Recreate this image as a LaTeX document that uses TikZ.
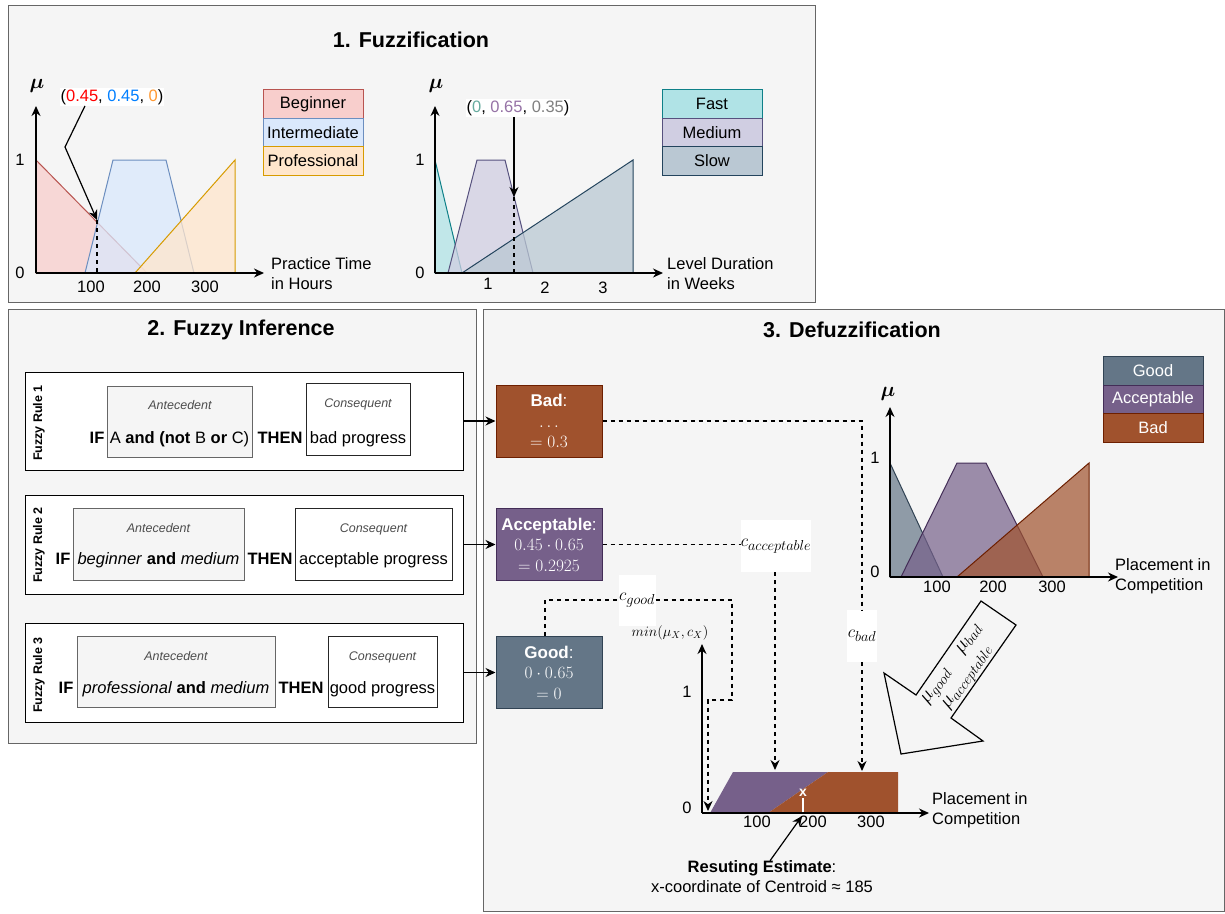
\documentclass[tikz,border=0pt]{standalone}
\usepackage{amsmath}
\usepackage{fontspec}
\setmainfont{Liberation Sans}
\usetikzlibrary{arrows.meta, positioning, calc}
\definecolor{panelfill}{HTML}{F5F5F5}
\definecolor{panelline}{HTML}{666666}
\definecolor{begfill}{HTML}{F8CECC}
\definecolor{begline}{HTML}{B85450}
\definecolor{intfill}{HTML}{DAE8FC}
\definecolor{intline}{HTML}{6C8EBF}
\definecolor{profill}{HTML}{FFE6CC}
\definecolor{proline}{HTML}{D79B00}
\definecolor{fastfill}{HTML}{B0E3E6}
\definecolor{fastline}{HTML}{0E8088}
\definecolor{medfill}{HTML}{D0CEE2}
\definecolor{medline}{HTML}{56517E}
\definecolor{slowfill}{HTML}{BAC8D3}
\definecolor{slowline}{HTML}{23445D}
\definecolor{goodfill}{HTML}{647687}
\definecolor{goodline}{HTML}{314354}
\definecolor{accfill}{HTML}{76608A}
\definecolor{accline}{HTML}{432D57}
\definecolor{badfill}{HTML}{A0522D}
\definecolor{badline}{HTML}{6D1F00}
\definecolor{tupred}{HTML}{FF0000}
\definecolor{tupblue}{HTML}{007FFF}
\definecolor{tuporange}{HTML}{FF9933}
\definecolor{tupteal}{HTML}{67AB9F}
\definecolor{tuppurple}{HTML}{9673A6}
\definecolor{tupgray}{HTML}{808080}
\tikzset{
  fzbase/.style={font=\fontsize{16.5}{20}\selectfont, inner sep=0pt},
  fzrow/.style={fzbase, anchor=base},
  fztitle/.style={font=\fontsize{21.5}{26}\selectfont\bfseries},
  fzmu/.style={font=\fontsize{22}{24}\selectfont, inner sep=0pt},
  lgd/.style={fzbase, draw, line width=1pt, minimum width=100pt, minimum height=28.5pt},
  fzaxis/.style={-{Stealth[length=10pt,width=9pt]}, line width=1.4pt},
  memb/.style={line width=1pt, fill opacity=0.75},
  rulebox/.style={draw, fill=white, line width=1pt, inner sep=0pt},
  antebox/.style={draw=panelline, fill=panelfill, line width=0.8pt, inner sep=0pt},
  consbox/.style={draw=black!85, fill=white, line width=0.8pt, inner sep=0pt},
  rulelbl/.style={font=\fontsize{12.5}{15}\selectfont\bfseries, inner sep=0pt},
  smallit/.style={font=\fontsize{12.5}{15}\selectfont\itshape, text=black!70, anchor=base, inner sep=0pt},
  outbox/.style={font=\fontsize{17}{20.5}\selectfont, inner sep=0pt, draw, line width=1pt,
                 minimum width=106pt, minimum height=72pt, text=white, align=center},
  clabel/.style={fill=white, inner sep=0pt, font=\fontsize{19}{22}\selectfont},
  conn/.style={-{Stealth[length=10pt,width=9pt]}, line width=1.2pt},
  link/.style={dash pattern=on 4pt off 4pt, line width=1.1pt},
}

\begin{document}
\begin{tikzpicture}[x=1pt, y=-1pt]
  \useasboundingbox (0,0) rectangle (1225,913);
  % panels
  \draw[panelline, fill=panelfill, line width=1pt] (8,5) rectangle (815,302);
  \draw[panelline, fill=panelfill, line width=1pt] (8,309) rectangle (476,743);
  \draw[panelline, fill=panelfill, line width=1pt] (483,309) rectangle (1224,911);
  \node[fztitle] (t1) at (411,40) {1. Fuzzification};
  \node[fztitle] (t2) at (241,330) {2. Fuzzy Inference};
  \node[fztitle] (t3) at (852,330) {3. Defuzzification};

  % practice time
  \draw[memb, draw=begline, fill=begfill] (36,160) -- (147,273) -- (36,273) -- cycle;
  \draw[memb, draw=intline, fill=intfill] (85,273) -- (113,160) -- (166,160) -- (194,273) -- cycle;
  \draw[memb, draw=proline, fill=profill] (135,273) -- (235,160) -- (235,273) -- cycle;
  \draw[fzaxis] (36,273) -- (36,106);
  \draw[fzaxis] (36,273) -- (264,273);
  \node[fzmu] at (37,86) {$\boldsymbol{\mu}$};
  \node[fzbase] at (20,160) {1};
  \node[fzbase] at (20,273) {0};
  \node[fzbase] at (91,287) {100};
  \node[fzbase] at (147,287) {200};
  \node[fzbase] at (205,287) {300};
  \node[fzbase, anchor=west, align=left] at (271,274) {Practice Time\\in Hours};
  \node[lgd, fill=begfill, draw=begline] (lbeg) at (313,104) {Beginner};
  \node[lgd, fill=intfill, draw=intline] (lint) at (313,132.5) {Intermediate};
  \node[lgd, fill=profill, draw=proline] (lpro) at (313,161) {Professional};
  \node[fzbase, fill=white, inner sep=1pt] (tupA) at (112,97)
    {(\textcolor{tupred}{0.45}, \textcolor{tupblue}{0.45}, \textcolor{tuporange}{0})};
  \coordinate (memA) at (97,220);
  \draw[conn] ([xshift=-27pt]tupA.south) -- (65,147) -- (memA);
  \draw[link] (memA) -- (97,273);

  % level duration
  \draw[memb, draw=fastline, fill=fastfill] (435,160) -- (462,273) -- (435,273) -- cycle;
  \draw[memb, draw=medline, fill=medfill] (448,273) -- (477,160) -- (505,160) -- (533,273) -- cycle;
  \draw[memb, draw=slowline, fill=slowfill] (462,273) -- (633,160) -- (633,273) -- cycle;
  \draw[fzaxis] (435,273) -- (435,106);
  \draw[fzaxis] (435,273) -- (663,273);
  \node[fzmu] at (436,86) {$\boldsymbol{\mu}$};
  \node[fzbase] at (420,160) {1};
  \node[fzbase] at (420,273) {0};
  \node[fzbase] at (488,284) {1};
  \node[fzbase] at (545,288) {2};
  \node[fzbase] at (603,288) {3};
  \node[fzbase, anchor=west, align=left] at (667,274) {Level Duration\\in Weeks};
  \node[lgd, fill=fastfill, draw=fastline] (lfast) at (712,104) {Fast};
  \node[lgd, fill=medfill, draw=medline] (lmed) at (712,132.5) {Medium};
  \node[lgd, fill=slowfill, draw=slowline] (lslow) at (712,161) {Slow};
  \node[fzbase, fill=white, inner sep=1pt] (tupB) at (518,108)
    {(\textcolor{tupteal}{0}, \textcolor{tuppurple}{0.65}, \textcolor{tupgray}{0.35})};
  \coordinate (memB) at (514,197);
  \draw[conn] ([xshift=-4pt]tupB.south) -- (memB);
  \draw[link] (memB) -- (514,273);

  % rule 1
  \node[rulebox, minimum width=438pt, minimum height=98pt] (rule1) at (244,421) {};
  \node[rulelbl, rotate=90] at (39,423) {Fuzzy Rule 1};
  \node[antebox, minimum width=145pt, minimum height=71pt] (ante1) at (179.5,421.5) {};
  \node[consbox, minimum width=104pt, minimum height=72pt] (cons1) at (358,419) {};
  \node[smallit] at (180,409.5) {Antecedent};
  \node[smallit] at (358,407.5) {Consequent};
  \node[fzrow] at (97,443) {\textbf{IF}};
  \node[fzrow] at (179.5,443) {A \textbf{and (not} B \textbf{or} C)};
  \node[fzrow] at (280,443) {\textbf{THEN}};
  \node[fzrow] at (358,443) {bad progress};

  % rule 2
  \node[rulebox, minimum width=438pt, minimum height=99pt] (rule2) at (244,544.5) {};
  \node[rulelbl, rotate=90] at (39,545) {Fuzzy Rule 2};
  \node[antebox, minimum width=171pt, minimum height=72pt] (ante2) at (158.5,544) {};
  \node[consbox, minimum width=157pt, minimum height=72pt] (cons2) at (373.5,544) {};
  \node[smallit] at (158.5,532.5) {Antecedent};
  \node[smallit] at (373.5,532.5) {Consequent};
  \node[fzrow] at (63,564) {\textbf{IF}};
  \node[fzrow] at (158.5,564) {\textit{beginner} \textbf{and} \textit{medium}};
  \node[fzrow] at (270,564) {\textbf{THEN}};
  \node[fzrow] at (373.5,564) {acceptable progress};

  % rule 3
  \node[rulebox, minimum width=438pt, minimum height=99pt] (rule3) at (244,672.5) {};
  \node[rulelbl, rotate=90] at (39,675) {Fuzzy Rule 3};
  \node[antebox, minimum width=198pt, minimum height=71pt] (ante3) at (176,671.5) {};
  \node[consbox, minimum width=109pt, minimum height=71pt] (cons3) at (382.5,671.5) {};
  \node[smallit] at (176,660.5) {Antecedent};
  \node[smallit] at (382.5,660.5) {Consequent};
  \node[fzrow] at (66,693) {\textbf{IF}};
  \node[fzrow] at (176,693) {\textit{professional} \textbf{and} \textit{medium}};
  \node[fzrow] at (301,693) {\textbf{THEN}};
  \node[fzrow] at (382.5,693) {good progress};

  % rule outputs
  \node[outbox, fill=badfill, draw=badline] (bad) at (549,421) {\textbf{Bad}:\\$\ldots$\\$=0.3$};
  \node[outbox, fill=accfill, draw=accline] (acc) at (549,544.5)
    {\textbf{Acceptable}:\\$0.45\cdot0.65$\\$=0.2925$};
  \node[outbox, fill=goodfill, draw=goodline] (good) at (549,672.5)
    {\textbf{Good}:\\$0\cdot0.65$\\$=0$};
  \draw[conn] (rule1) -- (bad);
  \draw[conn] (rule2) -- (acc);
  \draw[conn] (rule3) -- (good);

  % centroids
  \node[clabel, minimum width=30pt, minimum height=52pt] (cbad) at (862,636) {$c_{bad}$};
  \node[clabel, minimum width=67pt, minimum height=52pt] (cacc) at (776,546) {$c_{acceptable}$};
  \node[clabel, minimum width=37pt, minimum height=51pt] (cgood) at (637,600) {$c_{good}$};
  \coordinate (badin) at (862,771);
  \coordinate (accin) at (775,770);
  \coordinate (goodin) at (708,811);
  \draw[link] (bad.east) -| (cbad.north);
  \draw[link, -{Stealth[length=10pt,width=9pt]}] (cbad.south) -- (badin);
  \draw[link] (acc.east) -- (acc.east -| cacc.west);
  \draw[link, -{Stealth[length=10pt,width=9pt]}] (cacc.south -| accin) -- (accin);
  \draw[link] ([xshift=-4pt]good.north) |- (cgood.west);
  \draw[link, -{Stealth[length=10pt,width=9pt]}] (cgood.east) -- (732,600) -- (732,700)
    -- (708,700) -- (goodin);

  % placement chart
  \draw[memb, fill opacity=0.7, draw=goodline, fill=goodfill] (890,463) -- (943,577) -- (890,577) -- cycle;
  \draw[memb, fill opacity=0.7, draw=accline, fill=accfill] (901,577) -- (957,463) -- (986,463) -- (1043,577) -- cycle;
  \draw[memb, fill opacity=0.7, draw=badline, fill=badfill] (957,577) -- (1089,463) -- (1089,577) -- cycle;
  \draw[fzaxis] (890,577) -- (890,407);
  \draw[fzaxis] (890,577) -- (1118,577);
  \node[fzmu] at (888,394) {$\boldsymbol{\mu}$};
  \node[fzbase] at (875,458) {1};
  \node[fzbase] at (875,572) {0};
  \node[fzbase] at (937,587) {100};
  \node[fzbase] at (993,587) {200};
  \node[fzbase] at (1052,587) {300};
  \node[fzbase, anchor=west, align=left] at (1115,576) {Placement in\\Competition};
  \node[lgd, fill=goodfill, draw=goodline, text=white] (lgood) at (1153,371) {Good};
  \node[lgd, fill=accfill, draw=accline, text=white] (lacc) at (1153,399.5) {Acceptable};
  \node[lgd, fill=badfill, draw=badline, text=white] (lbad) at (1153,428) {Bad};

  % big arrow
  \draw[line width=1.2pt] (981,601) -- (1016,625) -- (951,718) -- (983,741) -- (901,754)
    -- (884,673) -- (916,695) -- cycle;
  \node[inner sep=0pt, rotate=55, align=left, font=\fontsize{20}{20}\selectfont] (mus) at (961,671)
    {$\mu_{good}$\hspace{20pt}$\mu_{bad}$\\\hspace{8pt}$\mu_{acceptable}$};

  % result chart
  \fill[accfill] (710,813) -- (733,772) -- (828,772) -- (768,813) -- cycle;
  \fill[badfill] (768,813) -- (828,772) -- (898,772) -- (898,813) -- cycle;
  \draw[fzaxis] (702,813) -- (702,644);
  \draw[fzaxis] (702,813) -- (929,813);
  \node[fzbase, font=\fontsize{14.5}{17}\selectfont] (minlbl) at (670,633) {$min(\mu_X, c_X)$};
  \node[fzbase] at (687,692) {1};
  \node[fzbase] at (687,808) {0};
  \node[fzbase] at (757,822) {100};
  \node[fzbase] at (813,822) {200};
  \node[fzbase] at (871,822) {300};
  \node[fzbase, anchor=west, align=left] at (932,810) {Placement in\\Competition};
  \draw[white, line width=2pt] (803,812) -- (803,798);
  \node[fzbase, text=white, font=\fontsize{14}{16}\selectfont\bfseries] (cx) at (803,793) {x};
  \node[fzbase, align=center] (est) at (762,877)
    {\textbf{Resuting Estimate}:\\x-coordinate of Centroid ≈ 185};
  \coordinate (cent) at (802,816);
  \draw[conn] ([xshift=8pt]est.north) -- (cent);
\end{tikzpicture}
\end{document}
